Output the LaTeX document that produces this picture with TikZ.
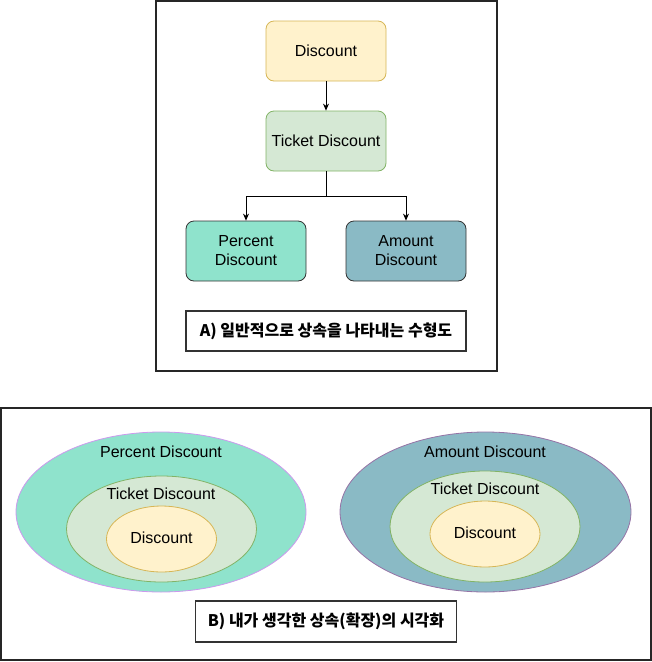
\documentclass[tikz,border=0pt]{standalone}
\usepackage{fontspec}
\setmainfont{Liberation Sans}
\newfontfamily\krfont{Noto Sans CJK KR}
\usetikzlibrary{arrows.meta,shapes.geometric}
\definecolor{dyel}{HTML}{FFF2CC}
\definecolor{dyelS}{HTML}{D6B656}
\definecolor{dgrn}{HTML}{D5E8D4}
\definecolor{dgrnS}{HTML}{82B366}
\definecolor{dteal}{HTML}{8FE3CC}
\definecolor{dblue}{HTML}{8ABAC5}
\definecolor{purL}{HTML}{CC99EE}
\definecolor{purD}{HTML}{9673A6}
\tikzset{
  frame/.style={draw=black!85,line width=1.6pt},
  boxn/.style={draw,rounded corners=8pt,minimum width=120pt,minimum height=60pt,align=center,font=\fontsize{16}{19}\selectfont,line width=0.8pt},
  capt/.style={draw=black!80,line width=1.8pt,align=center,font=\krfont\bfseries\fontsize{16}{19}\selectfont},
  ell/.style={ellipse,line width=0.8pt,inner sep=0pt},
  lbl/.style={font=\fontsize{16}{19}\selectfont},
  arr/.style={-{Stealth[length=7pt,width=6pt]},line width=0.8pt}
}
\begin{document}
\begin{tikzpicture}[x=1pt,y=-1pt]
\useasboundingbox (0,0) rectangle (652,662);
% frame A
\node[frame,minimum width=341pt,minimum height=370pt,inner sep=0pt] (frA) at (326.5,186) {};
\node[boxn,fill=dyel,draw=dyelS] (d) at (326,51) {Discount};
\node[boxn,fill=dgrn,draw=dgrnS] (t) at (326,141) {Ticket Discount};
\node[boxn,fill=dteal,draw=black!80] (p) at (246,251) {Percent\\Discount};
\node[boxn,fill=dblue,draw=black!80] (a) at (406,251) {Amount\\Discount};
\draw[arr] (d) -- (t);
\coordinate (j) at (326,196);
\draw[arr] (t.south) -- (j) -| (p.north);
\draw[arr] (j) -| (a.north);
\node[capt,minimum width=280pt,minimum height=40pt,inner sep=0pt] (ca) at (326,331) {A) 일반적으로 상속을 나타내는 수형도};
% frame B
\node[frame,minimum width=650pt,minimum height=252pt,inner sep=0pt] (frB) at (326,534) {};
% left
\node[ell,fill=dteal,draw=purL,minimum width=290pt,minimum height=160pt] (po) at (161,512) {};
\node[ell,fill=dgrn,draw=dgrnS,minimum width=190pt,minimum height=106pt] (pt) at (161.5,529) {};
\node[ell,fill=dyel,draw=dyelS,minimum width=110pt,minimum height=66pt] (pd) at (161.5,539) {};
\node[lbl] (pol) at (161,452) {Percent Discount};
\node[lbl] (ptl) at (161,494) {Ticket Discount};
\node[lbl] (pdl) at (161.5,538) {Discount};
% right
\node[ell,fill=dblue,draw=purD,minimum width=291pt,minimum height=160pt] (ao) at (485.5,512) {};
\node[ell,fill=dgrn,draw=dgrnS,minimum width=190pt,minimum height=111pt] (at) at (485,526.5) {};
\node[ell,fill=dyel,draw=dyelS,minimum width=110pt,minimum height=66pt] (ad) at (485,534) {};
\node[lbl] (aol) at (485,452) {Amount Discount};
\node[lbl] (atl) at (485,489) {Ticket Discount};
\node[lbl] (adl) at (485,533) {Discount};
\node[capt,minimum width=261pt,minimum height=41pt,inner sep=0pt] (cb) at (326,621.5) {B) 내가 생각한 상속(확장)의 시각화};
\end{tikzpicture}
\end{document}
